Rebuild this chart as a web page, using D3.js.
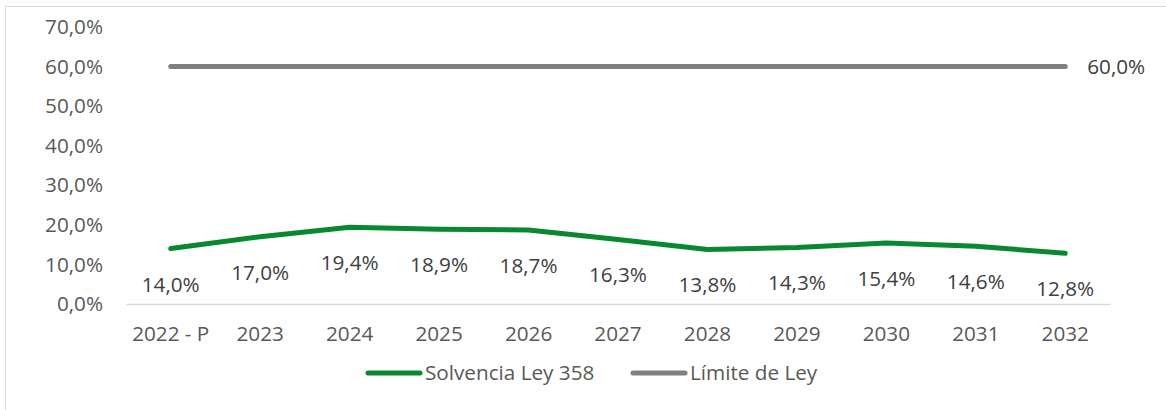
<!DOCTYPE html>
<html>
<head>
<meta charset="utf-8">
<script src="https://cdn.jsdelivr.net/npm/d3@7/dist/d3.min.js"></script>
<style>
  html, body { margin: 0; padding: 0; background: #fff; }
  svg { display: block; font-family: "Open Sans", sans-serif; }
</style>
</head>
<body>
<svg id="chart" width="1166" height="410"></svg>
<script>
// Years on the horizontal axis
const categories = ["2022 - P", "2023", "2024", "2025", "2026", "2027", "2028", "2029", "2030", "2031", "2032"];
// Solvency indicator (Ley 358), percent
const solvencia = [14.0, 17.0, 19.4, 18.9, 18.7, 16.3, 13.8, 14.3, 15.4, 14.6, 12.8];
// Legal limit, percent
const limite = [60, 60, 60, 60, 60, 60, 60, 60, 60, 60, 60];
// Y axis ticks
const yTicks = [0, 10, 20, 30, 40, 50, 60, 70];
const seriesNames = ["Solvencia Ley 358", "Límite de Ley"];

const green = "#078a2d";
const gray = "#808080";
const textColor = "#595959";
const fontSize = 20.7;

const svg = d3.select("#chart");

// outer chart frame
svg.append("rect")
  .attr("x", 5.5).attr("y", 6.5)
  .attr("width", 1170).attr("height", 420)
  .attr("fill", "none").attr("stroke", "#d9d9d9").attr("stroke-width", 1);

const x = d3.scaleBand().domain(categories).range([126, 1110]);
const y = d3.scaleLinear().domain([0, 70]).range([304, 27]);

const fmt = v => d3.format(".1f")(v).replace(".", ",") + "%";

// y axis labels
const yAxis = svg.append("g")
  .attr("transform", "translate(103,0)")
  .call(d3.axisLeft(y).tickValues(yTicks).tickSize(0).tickPadding(0).tickFormat(fmt));
yAxis.select(".domain").remove();
yAxis.selectAll("text")
  .attr("fill", textColor).style("font-size", fontSize + "px")
  .style("font-family", "'Open Sans', sans-serif");

// x axis baseline and labels
const xAxis = svg.append("g")
  .attr("transform", `translate(0,${y(0)})`)
  .call(d3.axisBottom(x).tickSize(0).tickPadding(22));
xAxis.select(".domain").attr("stroke", "#d9d9d9").attr("stroke-width", 1.5);
xAxis.selectAll("text")
  .attr("fill", textColor).style("font-size", fontSize + "px")
  .style("font-family", "'Open Sans', sans-serif");

const cx = d => x(d) + x.bandwidth() / 2;

const line = d3.line()
  .x((d, i) => cx(categories[i]))
  .y(d => y(d));

svg.append("path")
  .datum(limite)
  .attr("d", line)
  .attr("fill", "none").attr("stroke", gray)
  .attr("stroke-width", 5).attr("stroke-linecap", "round");

svg.append("path")
  .datum(solvencia)
  .attr("d", line)
  .attr("fill", "none").attr("stroke", green)
  .attr("stroke-width", 5).attr("stroke-linecap", "round").attr("stroke-linejoin", "round");

// value labels under the solvency line
svg.append("g").selectAll("text")
  .data(solvencia)
  .join("text")
  .attr("x", (d, i) => cx(categories[i]))
  .attr("y", d => y(d) + 43)
  .attr("text-anchor", "middle")
  .attr("fill", "#404040")
  .style("font-size", fontSize + "px")
  .text(fmt);

// value label for the limit, to the right of its last point
svg.append("text")
  .attr("x", cx(categories[categories.length - 1]) + 22)
  .attr("y", y(limite[limite.length - 1]) + 7)
  .attr("fill", "#404040")
  .style("font-size", fontSize + "px")
  .text(fmt(limite[limite.length - 1]));

// legend
const legend = svg.append("g");
const legendItems = [
  { name: seriesNames[0], color: green, x0: 368 },
  { name: seriesNames[1], color: gray, x0: 633 }
];
legendItems.forEach(it => {
  legend.append("line")
    .attr("x1", it.x0).attr("x2", it.x0 + 52)
    .attr("y1", 373).attr("y2", 373)
    .attr("stroke", it.color).attr("stroke-width", 5).attr("stroke-linecap", "round");
  legend.append("text")
    .attr("x", it.x0 + 57).attr("y", 380)
    .attr("fill", textColor)
    .style("font-size", fontSize + "px")
    .text(it.name);
});
</script>
</body>
</html>
